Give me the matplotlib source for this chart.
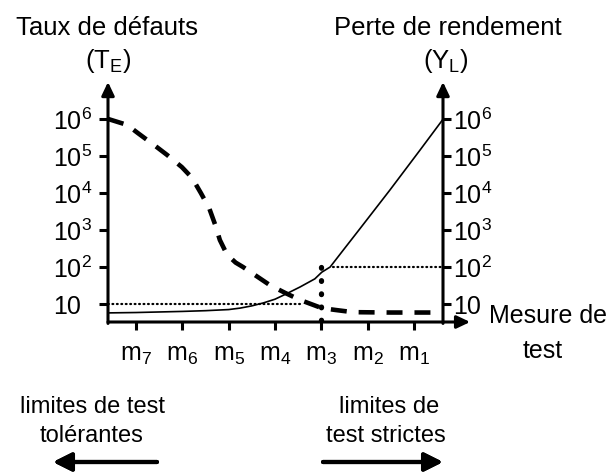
import numpy as np
import matplotlib.pyplot as plt
from matplotlib.ticker import NullLocator

plt.rcParams['font.family'] = ['Liberation Sans', 'DejaVu Sans']
plt.rcParams['mathtext.fontset'] = 'custom'
plt.rcParams['mathtext.rm'] = 'Liberation Sans'
plt.rcParams['mathtext.it'] = 'Liberation Sans:italic'
plt.rcParams['lines.scale_dashes'] = False

# test positions m7 .. m1
x_labels = ['$\\mathregular{m_7}$', '$\\mathregular{m_6}$', '$\\mathregular{m_5}$',
            '$\\mathregular{m_4}$', '$\\mathregular{m_3}$', '$\\mathregular{m_2}$',
            '$\\mathregular{m_1}$']
x_ticks = [0, 1, 2, 3, 4, 5, 6]

y_ticks = [10, 1e2, 1e3, 1e4, 1e5, 1e6]
y_labels = ['10', '$\\mathregular{10^2}$', '$\\mathregular{10^3}$',
            '$\\mathregular{10^4}$', '$\\mathregular{10^5}$', '$\\mathregular{10^6}$']

# defect rate T_E (dashed), log10 values
te_x = [-0.60, -0.19, 0.04, 0.45, 0.67, 0.99, 1.21, 1.40, 1.58, 1.71, 1.81,
        1.92, 2.03, 2.15, 2.31, 2.63, 2.89, 3.22, 3.54, 4.01, 4.30, 4.68, 5.50, 6.63]
te_log = [6.00, 5.84, 5.62, 5.24, 5.03, 4.70, 4.41, 4.00, 3.59, 3.14, 2.73,
          2.45, 2.26, 2.12, 2.00, 1.73, 1.51, 1.30, 1.11, 0.89, 0.84, 0.78, 0.77, 0.77]

# yield loss Y_L (solid), log10 values
yl_x = [-0.60, 0.0, 1.0, 1.5, 2.0, 2.25, 2.5, 2.75, 3.0, 3.22, 3.54, 3.86, 4.01,
        4.19, 4.5, 4.83, 5.48, 6.13, 6.63]
yl_log = [0.76, 0.77, 0.80, 0.82, 0.85, 0.89, 0.95, 1.03, 1.13, 1.26, 1.46, 1.68,
          1.86, 2.00, 2.50, 3.03, 4.08, 5.16, 6.00]

m3 = 4
te_at_m3 = 10
yl_at_m3 = 100

W, H = 611, 472


def fx(px):
    return px / W


def fy(py):
    return 1 - py / H


fig = plt.figure(figsize=(6.11, 4.72), dpi=100)
ax = fig.add_axes([fx(108), fy(322), fx(443) - fx(108), fy(82) - fy(322)])
ax2 = ax.twinx()

xmin, xmax = -0.604, 6.626
ymin, ymax = 10 ** 0.514, 10 ** 7.0
for a in (ax, ax2):
    a.set_yscale('log')
    a.set_xlim(xmin, xmax)
    a.set_ylim(ymin, ymax)
    for s in a.spines.values():
        s.set_visible(False)
    a.yaxis.set_minor_locator(NullLocator())
    a.set_yticks(y_ticks, y_labels)

ax.set_xticks(x_ticks, x_labels)
ax.tick_params(axis='x', direction='out', length=6, width=2.2, pad=9, labelsize=18)
ax.tick_params(axis='y', direction='out', length=6.5, width=2.2, pad=33, labelsize=18)
for lab in ax.get_yticklabels():
    lab.set_horizontalalignment('left')
ax2.tick_params(axis='y', direction='out', length=6, width=2.2, pad=1, labelsize=18)

# curves
ax.plot(te_x, 10 ** np.array(te_log), color='black', lw=3.3,
        dashes=(11.5, 8.6), dash_capstyle='butt')
ax.plot(yl_x, 10 ** np.array(yl_log), color='black', lw=1.2)

# guide lines at m3
ax.plot([xmin, 3.54], [te_at_m3, te_at_m3], color='black', lw=1.6,
        dashes=(0.6, 2.6), dash_capstyle='round')
ax.plot([4.25, xmax], [yl_at_m3, yl_at_m3], color='black', lw=1.6,
        dashes=(0.6, 2.6), dash_capstyle='round')
ax.plot([m3, m3], [yl_at_m3, ymin], color='black', lw=3.8,
        dashes=(0.5, 9.0), dash_capstyle='round', clip_on=False)

# axis lines with arrow heads
akw = dict(arrowstyle='-|>,head_length=0.8,head_width=0.38', lw=2.2,
           color='black', shrinkA=0, shrinkB=0, mutation_scale=10)
ax.annotate('', xy=(0, 1), xytext=(0, -0.006), xycoords='axes fraction',
            arrowprops=akw, annotation_clip=False)
ax.annotate('', xy=(1, 1), xytext=(1, -0.006), xycoords='axes fraction',
            arrowprops=akw, annotation_clip=False)
ax.annotate('', xy=(1.081, 0), xytext=(0, 0), xycoords='axes fraction',
            arrowprops=akw, annotation_clip=False)

fs = 18.5
fig.text(fx(107), fy(35), 'Taux de défauts', ha='center', va='baseline', fontsize=fs)
fig.text(fx(108), fy(61), '$\\mathregular{(T_E)}$', ha='center', va='center', fontsize=fs)
fig.text(fx(448), fy(35), 'Perte de rendement', ha='center', va='baseline', fontsize=fs)
fig.text(fx(446), fy(61), '$\\mathregular{(Y_L)}$', ha='center', va='center', fontsize=fs)
fig.text(fx(548), fy(323), 'Mesure de', ha='center', va='baseline', fontsize=18)
fig.text(fx(543), fy(358), 'test', ha='center', va='baseline', fontsize=18)

fb = 17
fig.text(fx(92), fy(413), 'limites de test', ha='center', va='baseline', fontsize=fb)
fig.text(fx(92), fy(442), 'tolérantes', ha='center', va='baseline', fontsize=fb)
fig.text(fx(389), fy(413), 'limites de', ha='center', va='baseline', fontsize=fb)
fig.text(fx(386), fy(442), 'test strictes', ha='center', va='baseline', fontsize=fb)

bkw = dict(arrowstyle='-|>,head_length=1.1,head_width=0.55', lw=3,
           color='black', shrinkA=0, shrinkB=0, mutation_scale=10)
fig.add_artist(plt.annotate('', xy=(53, 10), xytext=(157, 10),
                            xycoords='figure pixels', arrowprops=bkw))
fig.add_artist(plt.annotate('', xy=(443, 10), xytext=(323, 10),
                            xycoords='figure pixels', arrowprops=bkw))

fig.savefig('out.png', dpi=100)
